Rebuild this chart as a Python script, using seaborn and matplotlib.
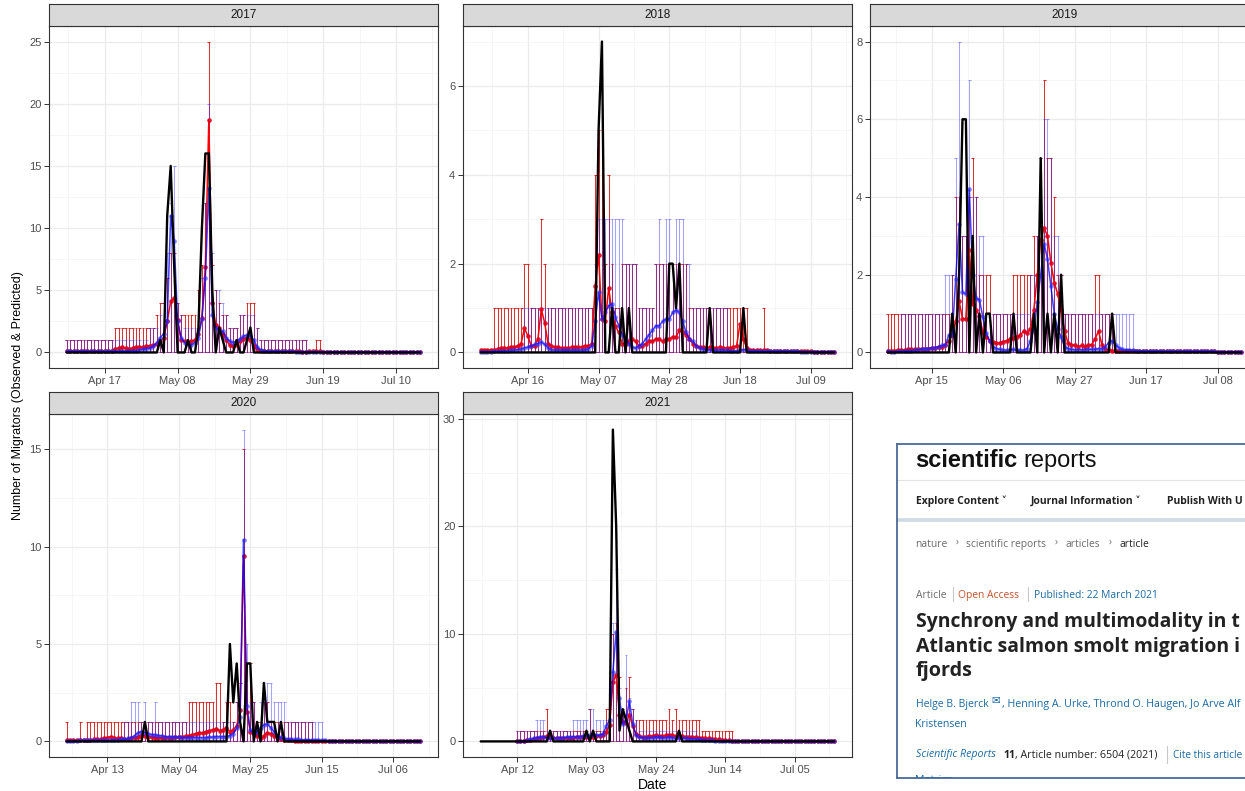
import numpy as np
import pandas as pd
import matplotlib
matplotlib.use("Agg")
import matplotlib.pyplot as plt
import matplotlib.dates as mdates
import seaborn as sns

# ----------------------------------------------------------------- data
# Observed (black) and two model predictions (red, blue) with upper bounds
# of their prediction intervals, one value per day.

START_2017 = "2017-04-06"
OBS_2017 = [
    0, 0, 0, 0, 0, 0, 0, 0, 0, 0,  0, 0, 0, 0, 0, 0, 0, 0, 0, 0,  0, 0, 0, 0, 0,
    0, 0, 1, 0, 11, 15, 7, 0, 0, 0,  1, 0, 0, 2, 10, 16, 16, 5, 0, 2,  1, 0, 0, 0, 1, 0, 0, 1, 2, 0,  0,
    0, 0, 0, 0, 0, 0, 0, 0, 0, 0,  0, 0, 0, 0, 0, 0, 0, 0, 0, 0,  0, 0, 0, 0, 0, 0, 0, 0, 0, 0,
    0, 0, 0, 0, 0, 0, 0, 0, 0, 0,  0, 0, 0, 0, 0, 0, 0,
]
RED_2017 = [
    0.08, 0.1, 0.12, 0.1, 0.08, 0.1, 0.12, 0.1, 0.1, 0.12,  0.1, 0.12, 0.15, 0.15, 0.3, 0.35, 0.4, 0.35, 0.3, 0.35,
    0.4, 0.45, 0.4, 0.5, 0.55,
    0.6, 0.7, 0.9, 1.2, 2.5, 4.1, 4.4, 2.6, 1.0, 0.9,  0.8, 0.9, 1.0, 1.5, 2.8, 6.9, 18.7, 4.0, 2.2, 2.0,
    1.5, 1.0, 0.6, 0.5, 0.6, 0.9, 1.1, 1.2, 1.0, 0.5,  0.25,
    0.15, 0.12, 0.1, 0.1, 0.1, 0.08, 0.08, 0.1, 0.1, 0.08,  0.08, 0.08, 0.07, 0.07, 0.08, 0.1, 0.1, 0.08, 0.07, 0.07,
    0.06, 0.06, 0.06, 0.05, 0.06, 0.06, 0.05, 0.05, 0.05, 0.05,
    0.05, 0.05, 0.04, 0.05, 0.05, 0.04, 0.04, 0.05, 0.04, 0.04,  0.04, 0.04, 0.03, 0.04, 0.03, 0.03, 0.03,
]
BLUE_2017 = [
    0.08, 0.1, 0.1, 0.08, 0.1, 0.1, 0.08, 0.1, 0.08, 0.1,  0.1, 0.08, 0.1, 0.1, 0.1, 0.1, 0.12, 0.12, 0.15, 0.15,
    0.15, 0.2, 0.25, 0.3, 0.35,
    0.5, 0.8, 1.2, 1.5, 2.5, 11.0, 9.0, 2.5, 1.2, 0.8,  0.7, 0.6, 0.8, 1.2, 2.7, 6.0, 13.2, 3.0, 2.0, 1.8,
    1.7, 1.2, 0.9, 0.8, 0.9, 1.1, 1.3, 1.4, 1.3, 1.0,  0.4,
    0.2, 0.15, 0.12, 0.1, 0.1, 0.1, 0.08, 0.08, 0.08, 0.08,  0.07, 0.07, 0.07, 0.06, 0.06, 0.06, 0.05, 0.05, 0.05, 0.05,
    0.05, 0.05, 0.04, 0.04, 0.04, 0.04, 0.04, 0.04, 0.04, 0.04,
    0.04, 0.04, 0.03, 0.04, 0.03, 0.03, 0.03, 0.03, 0.03, 0.03,  0.03, 0.03, 0.02, 0.03, 0.02, 0.02, 0.02,
]
RED_UP_2017 = [
    1, 1, 1, 1, 1, 1, 1, 1, 1, 1,  1, 1, 1, 1, 2, 2, 2, 2, 2, 2,  2, 2, 2, 2, 2,
    2, 3, 4, 4, 6, 8, 8, 4, 3, 3,  3, 3, 3, 5, 7, 12, 25, 7, 5, 4,  3, 3, 2, 2, 2, 3, 3, 4, 4, 4,  2,
    1, 1, 1, 1, 1, 1, 1, 1, 1, 1,  1, 1, 1, 1, 0, 0, 1, 1, 0, 0,  0, 0, 0, 0, 0, 0, 0, 0, 0, 0,
    0, 0, 0, 0, 0, 0, 0, 0, 0, 0,  0, 0, 0, 0, 0, 0, 0,
]
BLUE_UP_2017 = [
    1, 1, 1, 1, 1, 1, 1, 1, 1, 1,  1, 1, 1, 1, 1, 1, 1, 1, 1, 1,  1, 1, 1, 1, 2,
    2, 2, 3, 4, 8, 12, 15, 4, 3, 2,  2, 2, 2, 3, 6, 12, 20, 8, 5, 5,  4, 3, 2, 2, 2, 3, 3, 3, 3, 3,  2,
    1, 1, 1, 1, 1, 1, 1, 1, 1, 1,  1, 1, 1, 1, 0, 0, 0, 0, 0, 0,  0, 0, 0, 0, 0, 0, 0, 0, 0, 0,
    0, 0, 0, 0, 0, 0, 0, 0, 0, 0,  0, 0, 0, 0, 0, 0, 0,
]

START_2018 = "2018-04-02"
OBS_2018 = [
    0, 0, 0, 0, 0, 0, 0, 0, 0, 0,  0, 0, 0, 0, 0, 0, 0, 0, 0, 0,  0, 0, 0, 0, 0, 0, 0, 0, 0,
    0, 0, 0, 0, 0, 0, 5, 7, 0, 0,  1, 0, 0, 1, 0, 1, 0, 0, 0, 0,  0, 0, 0, 0, 0, 0, 0, 2, 2, 1,  2,
    0, 0, 0, 0, 0, 0, 0, 0, 1, 0,  0, 0, 0, 0, 0, 0, 0, 0, 1, 0,  0, 0, 0, 0, 0, 0, 0, 0, 0, 0,
    0, 0, 0, 0, 0, 0, 0, 0, 0, 0,  0, 0, 0, 0, 0, 0,
]
RED_2018 = [
    0.05, 0.05, 0.05, 0.06, 0.06, 0.08, 0.1, 0.1, 0.1, 0.12,  0.12, 0.15, 0.2, 0.55, 0.37, 0.15, 0.15, 0.3, 0.97, 0.67,
    0.2, 0.15, 0.12, 0.12, 0.1, 0.1, 0.1, 0.12, 0.12,
    0.12, 0.12, 0.15, 0.15, 0.2, 1.5, 2.2, 0.75, 0.7, 1.45,  0.9, 0.6, 0.45, 0.2, 0.2, 0.25, 0.3, 0.25, 0.15, 0.15,
    0.2, 0.25, 0.25, 0.3, 0.3, 0.25, 0.3, 0.3, 0.35, 0.35,  0.5,
    0.45, 0.4, 0.3, 0.2, 0.15, 0.12, 0.12, 0.1, 0.12, 0.1,  0.1, 0.12, 0.1, 0.1, 0.1, 0.12, 0.15, 0.65, 0.3, 0.1,
    0.06, 0.06, 0.05, 0.05, 0.05, 0.05, 0.04, 0.04, 0.04, 0.04,
    0.04, 0.04, 0.03, 0.03, 0.03, 0.03, 0.03, 0.03, 0.03, 0.02,  0.02, 0.02, 0.02, 0.02, 0.02, 0.02,
]
BLUE_2018 = [
    0.02, 0.02, 0.02, 0.02, 0.03, 0.03, 0.03, 0.04, 0.04, 0.05,  0.05, 0.06, 0.08, 0.1, 0.12, 0.15, 0.18, 0.2, 0.24, 0.18,
    0.1, 0.06, 0.05, 0.05, 0.05, 0.05, 0.05, 0.05, 0.05,
    0.05, 0.05, 0.06, 0.08, 0.15, 0.7, 1.35, 0.75, 0.9, 1.05,  1.1, 0.8, 0.6, 0.4, 0.3, 0.2, 0.12, 0.1, 0.15, 0.2,
    0.3, 0.4, 0.5, 0.6, 0.6, 0.7, 0.75, 0.75, 0.9, 0.95,  0.9,
    0.7, 0.45, 0.3, 0.25, 0.15, 0.1, 0.08, 0.06, 0.06, 0.05,  0.05, 0.05, 0.05, 0.05, 0.04, 0.04, 0.04, 0.05, 0.06, 0.05,
    0.04, 0.04, 0.04, 0.03, 0.03, 0.03, 0.03, 0.03, 0.03, 0.03,
    0.03, 0.03, 0.03, 0.03, 0.03, 0.02, 0.02, 0.02, 0.02, 0.02,  0.02, 0.02, 0.02, 0.02, 0.02, 0.02,
]
RED_UP_2018 = [
    0, 0, 0, 0, 1, 1, 1, 1, 1, 1,  1, 1, 1, 2, 2, 1, 1, 1, 3, 2,  1, 1, 1, 1, 1, 1, 1, 1, 1,
    1, 1, 1, 1, 1, 4, 5, 5, 2, 4,  2, 1, 1, 2, 2, 2, 2, 2, 1, 1,  1, 1, 1, 2, 2, 2, 2, 2, 2, 2,  2,
    2, 2, 1, 1, 1, 1, 1, 1, 1, 1,  1, 1, 1, 1, 1, 1, 1, 1, 1, 1,  0, 0, 0, 0, 1, 0, 0, 0, 0, 0,
    0, 0, 0, 0, 0, 0, 0, 0, 0, 0,  0, 0, 0, 0, 0, 0,
]
BLUE_UP_2018 = [
    0, 0, 0, 0, 0, 0, 0, 0, 0, 0,  0, 0, 0, 1, 1, 1, 1, 1, 1, 1,  1, 1, 1, 1, 1, 1, 1, 1, 1,
    1, 1, 1, 1, 1, 2, 3, 3, 3, 3,  3, 3, 3, 3, 2, 2, 2, 2, 1, 1,  1, 1, 1, 2, 3, 2, 3, 3, 2, 3,  3,
    3, 2, 2, 1, 1, 1, 1, 1, 1, 1,  1, 1, 1, 1, 0, 0, 0, 0, 0, 0,  0, 0, 0, 0, 0, 0, 0, 0, 0, 0,
    0, 0, 0, 0, 0, 0, 0, 0, 0, 0,  0, 0, 0, 0, 0, 0,
]

START_2019 = "2019-04-02"
OBS_2019 = [
    0, 0, 0, 0, 0, 0, 0, 0, 0, 0,  0, 0, 0, 0, 0, 0, 0, 0, 0, 1,  0, 2, 6, 6, 0, 3, 0, 1, 0,
    1, 1, 0, 0, 0, 0, 0, 0, 1, 0,  0, 0, 0, 0, 1, 0, 5, 0, 1, 0,  1, 0, 2, 0, 0, 0, 0, 0, 0, 0,  0,
    0, 0, 0, 0, 0, 0, 1, 0, 0, 0,  0, 0, 0, 0, 0, 0, 0, 0, 0, 0,  0, 0, 0, 0, 0, 0, 0, 0, 0, 0,
    0, 0, 0, 0, 0, 0, 0, 0, 0, 0,  0, 0, 0, 0, 0,
]
RED_2019 = [
    0.05, 0.05, 0.05, 0.06, 0.06, 0.07, 0.08, 0.08, 0.08, 0.1,  0.1, 0.1, 0.1, 0.12, 0.12, 0.15, 0.15, 0.2, 0.3, 0.45,
    0.8, 1.32, 0.87, 0.87, 2.64, 1.25, 1.1, 0.95, 0.5,
    0.4, 0.3, 0.28, 0.25, 0.25, 0.28, 0.3, 0.35, 0.38, 0.4,  0.45, 0.55, 0.5, 0.6, 1.1, 2.0, 2.9, 3.2, 3.0, 2.3,
    1.8, 1.5, 1.1, 0.55, 0.25, 0.2, 0.18, 0.15, 0.18, 0.15,  0.2,
    0.2, 0.35, 0.55, 0.2, 0.1, 0.06, 0.05, 0.05, 0.05, 0.04,  0.04, 0.05, 0.05, 0.04, 0.04, 0.04, 0.04, 0.04, 0.04, 0.04,
    0.04, 0.03, 0.03, 0.03, 0.03, 0.03, 0.03, 0.03, 0.03, 0.03,
    0.03, 0.03, 0.03, 0.03, 0.03, 0.03, 0.03, 0.02, 0.02, 0.02,  0.02, 0.02, 0.02, 0.02, 0.02,
]
BLUE_2019 = [
    0.03, 0.02, 0.02, 0.03, 0.03, 0.04, 0.05, 0.05, 0.06, 0.07,  0.08, 0.1, 0.1, 0.12, 0.12, 0.15, 0.18, 0.2, 0.45, 0.45,
    1.9, 3.3, 1.55, 1.5, 4.2, 2.0, 1.4, 1.35, 0.9,
    0.5, 0.3, 0.15, 0.1, 0.08, 0.06, 0.06, 0.06, 0.08, 0.06,  0.06, 0.06, 0.1, 0.3, 0.6, 1.3, 2.0, 2.8, 2.4, 1.7,
    1.0, 0.6, 0.4, 0.15, 0.1, 0.08, 0.07, 0.07, 0.07, 0.07,  0.08,
    0.08, 0.08, 0.1, 0.1, 0.15, 0.25, 0.3, 0.2, 0.12, 0.08,  0.07, 0.07, 0.06, 0.05, 0.05, 0.04, 0.04, 0.04, 0.04, 0.04,
    0.04, 0.03, 0.03, 0.03, 0.03, 0.03, 0.03, 0.03, 0.03, 0.03,
    0.03, 0.03, 0.03, 0.03, 0.03, 0.03, 0.03, 0.02, 0.02, 0.02,  0.02, 0.02, 0.02, 0.02, 0.02,
]
RED_UP_2019 = [
    1, 1, 1, 1, 1, 1, 1, 1, 1, 1,  1, 1, 1, 1, 1, 1, 1, 1, 1, 2,  4, 4, 3, 3, 4, 5, 4, 2, 2,
    2, 2, 1, 1, 1, 1, 1, 1, 2, 2,  2, 2, 2, 2, 3, 3, 5, 7, 5, 5,  4, 2, 2, 1, 1, 1, 1, 1, 1, 1,  1,
    1, 2, 2, 1, 1, 1, 1, 0, 0, 0,  0, 0, 0, 0, 0, 0, 0, 0, 0, 0,  0, 0, 0, 0, 0, 0, 0, 0, 0, 0,
    0, 0, 0, 0, 0, 0, 0, 0, 0, 0,  0, 0, 0, 0, 0,
]
BLUE_UP_2019 = [
    0, 0, 0, 0, 1, 1, 1, 1, 1, 1,  1, 1, 1, 1, 1, 1, 1, 2, 2, 2,  5, 8, 3, 3, 7, 4, 4, 3, 3,
    1, 1, 1, 1, 1, 1, 1, 1, 1, 1,  1, 1, 1, 2, 2, 3, 5, 6, 6, 5,  3, 3, 2, 1, 1, 1, 1, 1, 1, 1,  1,
    1, 1, 1, 1, 1, 1, 1, 1, 1, 1,  1, 1, 1, 0, 0, 0, 0, 0, 0, 0,  0, 0, 0, 0, 0, 0, 0, 0, 0, 0,
    0, 0, 0, 0, 0, 0, 0, 0, 0, 0,  0, 0, 0, 0, 0,
]

START_2020 = "2020-04-01"
OBS_2020 = [
    0, 0, 0, 0, 0, 0, 0, 0, 0, 0,  0, 0, 0, 0, 0, 0, 0, 0, 0, 0,  0, 0, 0, 1, 0, 0, 0, 0, 0, 0,
    0, 0, 0, 0, 0, 0, 0, 0, 0, 0,  0, 0, 0, 0, 0, 0, 0, 0, 5, 2,  4, 1, 0, 4, 4, 0, 1, 0, 3, 1,  1,
    1, 0, 1, 0, 0, 0, 0, 0, 0, 0,  0, 0, 0, 0, 0, 0, 0, 0, 0, 0,  0, 0, 0, 0, 0, 0, 0, 0, 0, 0,
    0, 0, 0, 0, 0, 0, 0, 0, 0, 0,  0, 0, 0, 0,
]
RED_2020 = [
    0.05, 0.05, 0.05, 0.05, 0.06, 0.06, 0.08, 0.08, 0.1, 0.1,  0.12, 0.15, 0.2, 0.25, 0.2, 0.15, 0.15, 0.12, 0.12, 0.15,
    0.2, 0.25, 0.3, 0.3, 0.25, 0.25, 0.2, 0.2, 0.2, 0.2,
    0.2, 0.2, 0.22, 0.25, 0.25, 0.28, 0.3, 0.35, 0.4, 0.45,  0.45, 0.5, 0.55, 0.6, 0.65, 0.55, 0.6, 0.7, 0.5, 0.6,
    0.8, 1.6, 9.5, 1.5, 0.5, 0.4, 0.3, 0.2, 0.3, 0.45,  0.4,
    0.3, 0.15, 0.1, 0.06, 0.05, 0.05, 0.04, 0.04, 0.04, 0.04,  0.04, 0.04, 0.04, 0.03, 0.03, 0.03, 0.03, 0.03, 0.03, 0.03,
    0.03, 0.03, 0.03, 0.03, 0.03, 0.03, 0.03, 0.03, 0.03, 0.03,
    0.03, 0.03, 0.03, 0.03, 0.03, 0.03, 0.03, 0.03, 0.03, 0.03,  0.03, 0.03, 0.03, 0.03,
]
BLUE_2020 = [
    0.04, 0.04, 0.04, 0.04, 0.05, 0.05, 0.05, 0.05, 0.05, 0.05,  0.06, 0.06, 0.06, 0.06, 0.08, 0.08, 0.1, 0.12, 0.15, 0.2,
    0.3, 0.45, 0.5, 0.45, 0.4, 0.35, 0.35, 0.3, 0.3, 0.25,
    0.25, 0.25, 0.22, 0.22, 0.2, 0.2, 0.2, 0.2, 0.2, 0.2,  0.2, 0.2, 0.22, 0.22, 0.25, 0.25, 0.25, 0.25, 0.3, 0.4,
    0.7, 1.25, 10.35, 1.8, 0.6, 0.4, 0.5, 0.7, 0.85, 0.9,  0.7,
    0.5, 0.3, 0.2, 0.15, 0.12, 0.1, 0.1, 0.1, 0.08, 0.08,  0.08, 0.08, 0.07, 0.07, 0.05, 0.05, 0.04, 0.04, 0.04, 0.04,
    0.03, 0.03, 0.03, 0.03, 0.03, 0.03, 0.03, 0.03, 0.03, 0.03,
    0.03, 0.03, 0.03, 0.03, 0.03, 0.03, 0.03, 0.03, 0.03, 0.03,  0.03, 0.03, 0.03, 0.03,
]
RED_UP_2020 = [
    1, 0, 0, 0, 1, 0, 1, 1, 1, 1,  1, 1, 1, 1, 1, 1, 1, 1, 1, 1,  1, 1, 1, 1, 1, 1, 1, 1, 1, 1,
    1, 1, 1, 1, 1, 1, 2, 2, 2, 2,  2, 2, 2, 2, 3, 3, 1, 2, 2, 1,  2, 3, 15, 4, 4, 2, 1, 1, 2, 2,  1,
    1, 1, 1, 1, 1, 1, 1, 1, 1, 1,  1, 1, 0, 0, 0, 0, 0, 0, 0, 0,  0, 0, 0, 0, 0, 0, 0, 0, 0, 0,
    0, 0, 0, 0, 0, 0, 0, 0, 0, 0,  0, 0, 0, 0,
]
BLUE_UP_2020 = [
    0, 0, 0, 0, 0, 0, 0, 0, 0, 0,  0, 0, 0, 0, 0, 0, 0, 1, 1, 2,  2, 2, 1, 2, 1, 1, 2, 1, 1, 1,
    1, 1, 1, 1, 1, 1, 1, 1, 1, 1,  1, 1, 1, 1, 1, 1, 1, 1, 1, 1,  2, 3, 16, 5, 2, 2, 1, 2, 3, 3,  3,
    2, 2, 2, 2, 1, 1, 1, 1, 1, 1,  1, 1, 1, 1, 1, 0, 0, 0, 0, 0,  0, 0, 0, 0, 0, 0, 0, 0, 0, 0,
    0, 0, 0, 0, 0, 0, 0, 0, 0, 0,  0, 0, 0, 0,
]

START_2021 = "2021-04-01"
PRED_START_2021 = "2021-04-12"
OBS_2021 = [
    0, 0, 0, 0, 0, 0, 0, 0, 0, 0,  0, 0, 0, 0, 0, 0, 0, 0, 0, 0,  0, 1, 0, 0, 0, 0, 0, 0, 0, 0,
    0, 0, 1, 0, 1, 0, 0, 0, 0, 0,  29, 20, 1, 3, 2, 1, 0, 0, 0, 0,  0, 0, 0, 0, 0, 0, 0, 0, 0, 0,  1,
    0, 0, 0, 0, 0, 0, 0, 0, 0, 0,  0, 0, 0, 0, 0, 0, 0, 0, 0, 0,  0, 0, 0, 0, 0, 0, 0, 0, 0, 0,
    0, 0, 0, 0, 0, 0, 0, 0, 0, 0,  0, 0, 0, 0, 0, 0, 0,
]
RED_2021 = [
    0.05, 0.05, 0.08, 0.1, 0.15, 0.2, 0.3, 0.35, 0.4, 0.5,  0.45, 0.35, 0.3, 0.3, 0.3, 0.35, 0.35, 0.35, 0.4,
    0.4, 0.4, 0.45, 0.45, 0.45, 0.5, 0.5, 0.55, 0.9, 1.5,  5.5, 6.2, 2.5, 1.8, 1.7, 2.5, 1.4, 0.7, 0.5, 0.45,
    0.45, 0.5, 0.5, 0.55, 0.5, 0.5, 0.55, 0.6, 0.55, 0.5,  0.5,
    0.5, 0.45, 0.45, 0.4, 0.4, 0.35, 0.35, 0.3, 0.3, 0.25,  0.2, 0.2, 0.15, 0.15, 0.1, 0.05, 0.04, 0.04, 0.03, 0.03,
    0.03, 0.03, 0.03, 0.03, 0.02, 0.02, 0.02, 0.02, 0.02, 0.02,
    0.02, 0.02, 0.02, 0.02, 0.02, 0.02, 0.02, 0.02, 0.02, 0.02,  0.02, 0.02, 0.02, 0.02, 0.02, 0.02, 0.02,
]
BLUE_2021 = [
    0.02, 0.03, 0.05, 0.1, 0.2, 0.3, 0.35, 0.4, 0.4, 0.35,  0.3, 0.3, 0.3, 0.35, 0.35, 0.4, 0.4, 0.45, 0.45,
    0.45, 0.5, 0.5, 0.55, 0.55, 0.6, 0.6, 0.7, 1.4, 2.0,  6.5, 10.2, 4.0, 1.6, 2.0, 3.8, 1.6, 0.6, 0.4, 0.35,
    0.35, 0.35, 0.35, 0.4, 0.4, 0.35, 0.35, 0.4, 0.35, 0.3,  0.3,
    0.3, 0.3, 0.25, 0.25, 0.2, 0.2, 0.15, 0.15, 0.12, 0.1,  0.08, 0.06, 0.05, 0.04, 0.03, 0.02, 0.02, 0.02, 0.02, 0.02,
    0.02, 0.02, 0.02, 0.02, 0.02, 0.02, 0.02, 0.02, 0.02, 0.02,
    0.02, 0.02, 0.02, 0.02, 0.02, 0.02, 0.02, 0.02, 0.02, 0.02,  0.02, 0.02, 0.02, 0.02, 0.02, 0.02, 0.02,
]
RED_UP_2021 = [
    1, 1, 1, 1, 1, 1, 1, 1, 1, 3,  1, 1, 1, 1, 1, 1, 1, 1, 1,
    1, 1, 1, 3, 1, 1, 1, 1, 3, 3,  10, 11, 6, 3, 5, 6, 3, 2, 2, 2,  2, 2, 2, 2, 2, 2, 2, 3, 2, 3,  2,
    2, 2, 2, 2, 2, 2, 1, 1, 1, 1,  1, 1, 1, 1, 1, 1, 0, 0, 0, 0,  0, 0, 0, 0, 0, 0, 0, 0, 0, 0,
    0, 0, 0, 0, 0, 0, 0, 0, 0, 0,  0, 0, 0, 0, 0, 0, 0,
]
BLUE_UP_2021 = [
    1, 1, 1, 1, 1, 1, 2, 2, 2, 1,  1, 1, 1, 1, 1, 1, 1, 2, 2,
    2, 2, 2, 3, 3, 2, 2, 2, 2, 3,  11, 16, 5, 3, 8, 4, 3, 2, 1, 1,  1, 1, 1, 1, 1, 1, 1, 1, 1, 1,  1,
    1, 1, 1, 1, 1, 0, 0, 0, 0, 0,  0, 0, 0, 0, 0, 0, 0, 0, 0, 0,  0, 0, 0, 0, 0, 0, 0, 0, 0, 0,
    0, 0, 0, 0, 0, 0, 0, 0, 0, 0,  0, 0, 0, 0, 0, 0, 0,
]

YEARS = [2017, 2018, 2019, 2020, 2021]
FIRST_TICKS = ["2017-04-17", "2018-04-16", "2019-04-15", "2020-04-13", "2021-04-12"]
Y_STEPS = [5, 2, 2, 5, 10]
X_LABEL = "Date"
Y_LABEL = "Number of Migrators (Observed & Predicted)"

# ----------------------------------------------------------------- style
sns.set_theme(style="white")
plt.rcParams["font.family"] = ["Liberation Sans", "DejaVu Sans"]

W, H = 1245, 791
fig = plt.figure(figsize=(W / 100, H / 100), dpi=100)
fig.patch.set_facecolor("white")


def px_axes(l, t, r, b):
    return fig.add_axes([l / W, 1 - b / H, (r - l) / W, (b - t) / H])


panels = [
    (YEARS[0], START_2017, OBS_2017, START_2017, RED_2017, BLUE_2017, RED_UP_2017, BLUE_UP_2017),
    (YEARS[1], START_2018, OBS_2018, START_2018, RED_2018, BLUE_2018, RED_UP_2018, BLUE_UP_2018),
    (YEARS[2], START_2019, OBS_2019, START_2019, RED_2019, BLUE_2019, RED_UP_2019, BLUE_UP_2019),
    (YEARS[3], START_2020, OBS_2020, START_2020, RED_2020, BLUE_2020, RED_UP_2020, BLUE_UP_2020),
    (YEARS[4], START_2021, OBS_2021, PRED_START_2021, RED_2021, BLUE_2021, RED_UP_2021, BLUE_UP_2021),
]
boxes = [(49, 26, 438, 368), (463, 26, 852, 368), (870, 26, 1259, 368),
         (49, 414, 438, 757), (463, 414, 852, 757)]

RED_BAR = "#d40000"
BLUE_BAR = "#2a2aff"


def errorbars(ax, dates, upper, color, alpha):
    up = np.asarray(upper, dtype=float)
    m = up > 0
    x = mdates.date2num(dates[m])
    kw = dict(color=color, alpha=alpha, lw=0.75, zorder=1.6)
    ax.vlines(x, 0, up[m], **kw)
    ax.hlines(up[m], x - 0.42, x + 0.42, **kw)
    ax.hlines(np.zeros(m.sum()), x - 0.42, x + 0.42, **kw)


for k, (year, o_start, obs, p_start, red, blue, red_up, blue_up) in enumerate(panels):
    l, t, r, b = boxes[k]
    ax = px_axes(l, t, r, b)
    obs_dates = pd.date_range(o_start, periods=len(obs), freq="D")
    df_obs = pd.DataFrame({"Date": obs_dates, "n": obs})
    df_red = pd.DataFrame({"Date": pd.date_range(p_start, periods=len(red), freq="D"), "n": red})
    df_blue = pd.DataFrame({"Date": pd.date_range(p_start, periods=len(blue), freq="D"), "n": blue})

    sns.lineplot(data=df_red, x="Date", y="n", ax=ax, color="red", linewidth=1.1, zorder=3)
    sns.scatterplot(data=df_red, x="Date", y="n", ax=ax, color="#e0001b", s=11, linewidth=0,
                    alpha=0.9, zorder=3.2)
    sns.lineplot(data=df_blue, x="Date", y="n", ax=ax, color="blue", linewidth=1.1, alpha=0.75, zorder=3.4)
    sns.scatterplot(data=df_blue, x="Date", y="n", ax=ax, color="#2b2bff", s=11, linewidth=0,
                    alpha=0.6, zorder=3.5)

    errorbars(ax, pd.date_range(p_start, periods=len(red_up), freq="D"), red_up, RED_BAR, 0.8)
    errorbars(ax, pd.date_range(p_start, periods=len(blue_up), freq="D"), blue_up, BLUE_BAR, 0.42)

    sns.lineplot(data=df_obs, x="Date", y="n", ax=ax, color="black", linewidth=1.7, zorder=4)

    # limits like ggplot's 5 % expansion
    all_dates = [obs_dates[0], obs_dates[-1], df_red["Date"].iloc[0], df_red["Date"].iloc[-1]]
    x0 = mdates.date2num(min(all_dates))
    x1 = mdates.date2num(max(all_dates))
    pad = 0.05 * (x1 - x0)
    ax.set_xlim(x0 - pad, x1 + pad)
    ymax = max(max(obs), max(red), max(blue), max(red_up), max(blue_up))
    ax.set_ylim(-0.05 * ymax, 1.05 * ymax)

    first = pd.Timestamp(FIRST_TICKS[k])
    majors = pd.date_range(first, periods=5, freq="21D")
    ax.set_xticks(mdates.date2num(majors))
    ax.set_xticklabels([d.strftime("%b %d") for d in majors])
    mins = mdates.date2num(first) - 10.5 + 21 * np.arange(0, 7)
    mins = mins[(mins > x0 - pad) & (mins < x1 + pad)]
    ax.set_xticks(mins, minor=True)

    step = Y_STEPS[k]
    yt = np.arange(0, ymax * 1.05 + 0.01, step)
    ax.set_yticks(yt)
    ax.set_yticklabels([f"{v:g}" for v in yt])
    ym = np.arange(step / 2, ymax * 1.05, step)
    ax.set_yticks(ym, minor=True)

    ax.set_xlabel("")
    ax.set_ylabel("")
    ax.set_facecolor("white")
    ax.grid(True, which="major", color="#ebebeb", lw=0.9)
    ax.grid(True, which="minor", color="#f3f3f3", lw=0.5)
    ax.set_axisbelow(True)
    for s in ax.spines.values():
        s.set_color("#333333")
        s.set_linewidth(0.8)
    ax.tick_params(which="major", length=3.5, width=0.7, color="#333333", labelsize=8,
                   labelcolor="#4d4d4d", pad=2, bottom=True, left=True)
    ax.tick_params(which="minor", length=0)

    # strip
    sax = px_axes(l, t - 22, r, t)
    sax.set_facecolor("#d9d9d9")
    sax.set_xticks([])
    sax.set_yticks([])
    for s in sax.spines.values():
        s.set_color("#333333")
        s.set_linewidth(0.8)
    sax.text(0.5, 0.5, str(year), transform=sax.transAxes, ha="center", va="center",
             fontsize=8.5, color="#1a1a1a")

fig.text(653 / W, 1 - 785 / H, X_LABEL, ha="center", va="center", fontsize=10, color="black")
fig.text(18 / W, 1 - 396 / H, Y_LABEL, ha="center", va="center", rotation=90, fontsize=9,
         color="black")

# ----------------------------------------------------------------- article snippet
ix0, iy0, ix1, iy1 = 897, 444, 1245, 778
iax = px_axes(ix0, iy0, ix1, iy1)
iax.set_xlim(ix0, ix1)
iax.set_ylim(iy1, iy0)
iax.set_xticks([])
iax.set_yticks([])
iax.set_facecolor("white")
for name, s in iax.spines.items():
    s.set_color("#4a6a99")
    s.set_linewidth(1.3)
iax.spines["right"].set_visible(False)

SANS = ["Open Sans", "DejaVu Sans"]
LINK = "#1b6aa5"
GRAY = "#6b6b6b"
renderer = fig.canvas.get_renderer()
RIGHT_EDGE = 1243.5


def itext(x, y, s, fit=False, **kw):
    kw.setdefault("family", SANS)
    kw.setdefault("fontsize", 7.2)
    kw.setdefault("color", "#222222")
    t = iax.text(x, y, s, va="baseline", ha="left", clip_on=True, **kw)
    if fit:
        # shrink text that would run past the right edge of the picture
        for _ in range(30):
            bb = t.get_window_extent(renderer=renderer)
            if bb.x1 <= RIGHT_EDGE:
                break
            t.set_fontsize(t.get_fontsize() * 0.985)
    return t


itext(915.5, 467, "scientific", family=["Liberation Sans"], fontweight="bold", fontsize=17, color="#111111")
itext(1023, 467, "reports", family=["Liberation Sans"], fontsize=17, color="#111111")
iax.plot([ix0, ix1], [480, 480], color="#e4e4e4", lw=0.8, clip_on=True)
itext(915.5, 504, "Explore Content \u02c5", fontweight="bold", fontsize=7.5)
itext(1031, 504, "Journal Information \u02c5", fontweight="bold", fontsize=7.5)
itext(1167, 504, "Publish With U", fontweight="bold", fontsize=7.5, fit=True)
iax.plot([ix0, ix1], [519.5, 519.5], color="#cfd9e4", lw=2.6, clip_on=True)

itext(915.5, 547, "nature", color=GRAY, fontsize=7.4)
itext(955.5, 545, "\u203a", color=GRAY, fontsize=7.4)
itext(966, 547, "scientific reports", color=GRAY, fontsize=7.4)
itext(1054.5, 545, "\u203a", color=GRAY, fontsize=7.4)
itext(1066, 547, "articles", color=GRAY, fontsize=7.4)
itext(1108.5, 545, "\u203a", color=GRAY, fontsize=7.4)
itext(1119, 547, "article", color="#222222", fontsize=7.4)

itext(915.5, 598, "Article", color=GRAY, fontsize=7.4)
iax.plot([952.7, 952.7], [587, 601], color="#c8c8c8", lw=0.8)
itext(958.5, 598, "Open Access", color="#c4522a", fontsize=7.4)
iax.plot([1027.7, 1027.7], [587, 601], color="#c8c8c8", lw=0.8)
itext(1033.5, 598, "Published: 22 March 2021", color=LINK, fontsize=7.4)

itext(915.5, 627, "Synchrony and multimodality in t", fontweight="bold", fontsize=14.2,
      color="#222222", fit=True)
itext(915.5, 652, "Atlantic salmon smolt migration i", fontweight="bold", fontsize=14.2,
      color="#222222", fit=True)
itext(915.5, 676, "fjords", fontweight="bold", fontsize=14.2, color="#222222")

itext(915.5, 707, "Helge B. Bjerck", color=LINK, fontsize=7.6)
itext(991.5, 704, "\u2709", color=LINK, fontsize=7.6, family=["DejaVu Sans"])
itext(1001.5, 707, ", Henning A. Urke, Thrond O. Haugen, Jo Arve Alf", color=LINK, fontsize=7.8, fit=True)
itext(915.5, 727, "Kristensen", color=LINK, fontsize=7.6)

itext(915.5, 757.5, "Scientific Reports", color=LINK, style="italic", fontsize=7.7)
itext(1003.5, 757.5, "11", fontweight="bold", fontsize=7.7)
itext(1015, 757.5, ", Article number: 6504 (2021)", fontsize=7.7)
iax.plot([1167, 1167], [746, 763], color="#c8c8c8", lw=0.8)
itext(1173, 757.5, "Cite this article", color=LINK, fontsize=7.7, fit=True)
itext(915.5, 783, "Metrics", color=LINK, fontsize=7.7)

fig.savefig("out.png", dpi=100, facecolor="white")
